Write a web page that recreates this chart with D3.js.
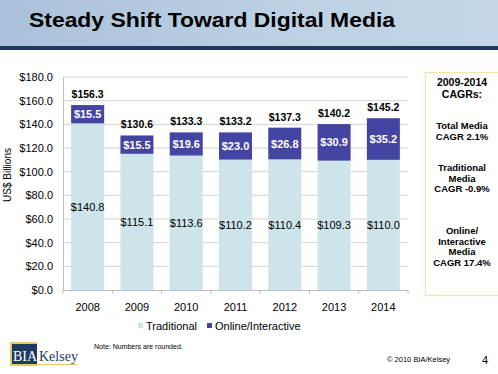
<!DOCTYPE html>
<html><head><meta charset="utf-8">
<script src="https://cdn.jsdelivr.net/npm/d3@7"></script>
<style>body{margin:0;background:#fff}svg{display:block;font-family:"Liberation Sans",Arial,sans-serif}</style>
</head><body><svg id="c" width="498" height="374"></svg>
<script>
const years = ["2008","2009","2010","2011","2012","2013","2014"];
const traditional = [140.8,115.1,113.6,110.2,110.4,109.3,110.0];
const online = [15.5,15.5,19.6,23.0,26.8,30.9,35.2];
const totals = [156.3,130.6,133.3,133.2,137.3,140.2,145.2];
const yTicks = [0,20,40,60,80,100,120,140,160,180];
const seriesNames = ["Traditional","Online/Interactive"];
const cagrLines = [["2009-2014","CAGRs:"],["Total Media","CAGR 2.1%"],["Traditional","Media","CAGR -0.9%"],["Online/","Interactive","Media","CAGR 17.4%"]];

const svg = d3.select("#c");
const defs = svg.append("defs");
const g1 = defs.append("linearGradient").attr("id","hdr").attr("x1",0).attr("x2",1).attr("y1",0).attr("y2",0);
g1.append("stop").attr("offset","0%").attr("stop-color","#a9c1d9");
g1.append("stop").attr("offset","55%").attr("stop-color","#bcd0e4");
g1.append("stop").attr("offset","100%").attr("stop-color","#c4d6e8");
svg.append("rect").attr("x",0).attr("y",0).attr("width",498).attr("height",46).attr("fill","url(#hdr)");
svg.append("rect").attr("x",0).attr("y",46).attr("width",498).attr("height",4).attr("fill","#1d3a5c");
svg.append("text").attr("x",29).attr("y",27).attr("font-size",21).attr("font-weight","bold").attr("fill","#000")
  .attr("textLength",366).attr("lengthAdjust","spacingAndGlyphs").text("Steady Shift Toward Digital Media");

const x = d3.scaleBand().domain(years).range([63,408]).paddingInner(0.33).paddingOuter(0.165);
const y = d3.scaleLinear().domain([0,180]).range([290,77]);

// gridlines
svg.append("g").selectAll("line").data(yTicks.slice(1)).join("line")
  .attr("x1",63).attr("x2",408).attr("y1",d=>y(d)).attr("y2",d=>y(d)).attr("stroke","#d4d4d4").attr("stroke-width",1);

const yAxis = svg.append("g").attr("transform","translate(63,0)")
  .call(d3.axisLeft(y).tickValues(yTicks).tickFormat(d=>"$"+d3.format(".1f")(d)).tickSize(0).tickPadding(10));
yAxis.select(".domain").attr("stroke","#bfbfbf");
yAxis.selectAll("text").attr("font-size",11).attr("fill","#000").attr("font-family","Liberation Sans, Arial, sans-serif");

svg.append("text").attr("transform","translate(11,175) rotate(-90)").attr("text-anchor","middle")
  .attr("font-size",10).attr("fill","#000").text("US$ Billions");

// bars
const bars = svg.append("g");
bars.selectAll("rect.t").data(years).join("rect").attr("class","t")
  .attr("x",d=>x(d)).attr("width",x.bandwidth())
  .attr("y",(d,i)=>y(traditional[i])).attr("height",(d,i)=>y(0)-y(traditional[i])).attr("fill","#cde5ea");
bars.selectAll("rect.o").data(years).join("rect").attr("class","o")
  .attr("x",d=>x(d)).attr("width",x.bandwidth())
  .attr("y",(d,i)=>y(traditional[i]+online[i])).attr("height",(d,i)=>y(traditional[i])-y(traditional[i]+online[i])).attr("fill","#4444a2");

// x axis
const xAxis = svg.append("g").attr("transform","translate(0,290)")
  .call(d3.axisBottom(x).tickSize(0).tickPadding(13));
xAxis.select(".domain").attr("stroke","#bfbfbf");
xAxis.selectAll("text").attr("font-size",11).attr("fill","#000").attr("font-family","Liberation Sans, Arial, sans-serif");
const step = x.step();
const bounds = d3.range(years.length+1).map(i=>63+i*step);
xAxis.selectAll("line.tk").data(bounds).join("line").attr("class","tk")
  .attr("x1",d=>d).attr("x2",d=>d).attr("y1",0).attr("y2",4).attr("stroke","#bfbfbf");

// labels
const lab = svg.append("g").attr("text-anchor","middle");
lab.selectAll("text.tl").data(years).join("text").attr("class","tl")
  .attr("x",d=>x(d)+x.bandwidth()/2).attr("y",(d,i)=>y(traditional[i]/2)+4)
  .attr("font-size",11).attr("fill","#000").text((d,i)=>"$"+traditional[i].toFixed(1));
lab.selectAll("text.ol").data(years).join("text").attr("class","ol")
  .attr("x",d=>x(d)+x.bandwidth()/2).attr("y",(d,i)=>y(traditional[i]+online[i]/2)+4)
  .attr("font-size",11).attr("font-weight","bold").attr("fill","#fff").text((d,i)=>"$"+online[i].toFixed(1));
lab.selectAll("text.tot").data(years).join("text").attr("class","tot")
  .attr("x",d=>x(d)+x.bandwidth()/2).attr("y",(d,i)=>y(totals[i])-7)
  .attr("font-size",10.5).attr("font-weight","bold").attr("fill","#000").text((d,i)=>"$"+totals[i].toFixed(1));

// legend
const leg = svg.append("g");
const legX = [138,207], legCol = ["#cde5ea","#4444a2"];
seriesNames.forEach((n,i)=>{
  leg.append("rect").attr("x",legX[i]).attr("y",323).attr("width",5).attr("height",5).attr("fill",legCol[i]);
  leg.append("text").attr("x",legX[i]+8).attr("y",330).attr("font-size",11).attr("fill","#000").text(n);
});

// CAGR box
svg.append("rect").attr("x",425.5).attr("y",72.5).attr("width",80).attr("height",223).attr("fill","#fff").attr("stroke","#f4e4a4").attr("stroke-width",1.2);
const box = svg.append("g").attr("text-anchor","middle").attr("font-weight","bold").attr("fill","#000");
const startY = [86,129,171,234];
cagrLines.forEach((grp,gi)=>{
  grp.forEach((t,li)=>{
    const first = gi===0;
    box.append("text").attr("x",462).attr("y",startY[gi]+li*(first?11.5:10.5))
      .attr("font-size",first?10.5:9.5).text(t);
  });
});

// footer
const logo = svg.append("g");
logo.append("rect").attr("x",10).attr("y",342).attr("width",27).attr("height",24).attr("fill","#e8c766");
logo.append("rect").attr("x",12).attr("y",344).attr("width",25).attr("height",20).attr("fill","#1f3a63");
logo.append("text").attr("x",13).attr("y",361).attr("font-size",14).attr("fill","#fff").attr("font-family","Liberation Serif, serif").text("BIA");
logo.append("text").attr("x",39).attr("y",361).attr("font-size",14).attr("fill","#1f3a63").attr("font-family","Liberation Serif, serif").text("Kelsey");
logo.append("line").attr("x1",37).attr("x2",76).attr("y1",364.5).attr("y2",364.5).attr("stroke","#e8c766").attr("stroke-width",1.2);
svg.append("text").attr("x",94).attr("y",349).attr("font-size",7).attr("fill","#000").text("Note: Numbers are rounded.");
svg.append("text").attr("x",387).attr("y",362).attr("font-size",7.5).attr("fill","#000").text("© 2010 BIA/Kelsey");
svg.append("text").attr("x",482).attr("y",364).attr("font-size",11).attr("fill","#000").text("4");
</script></body></html>
